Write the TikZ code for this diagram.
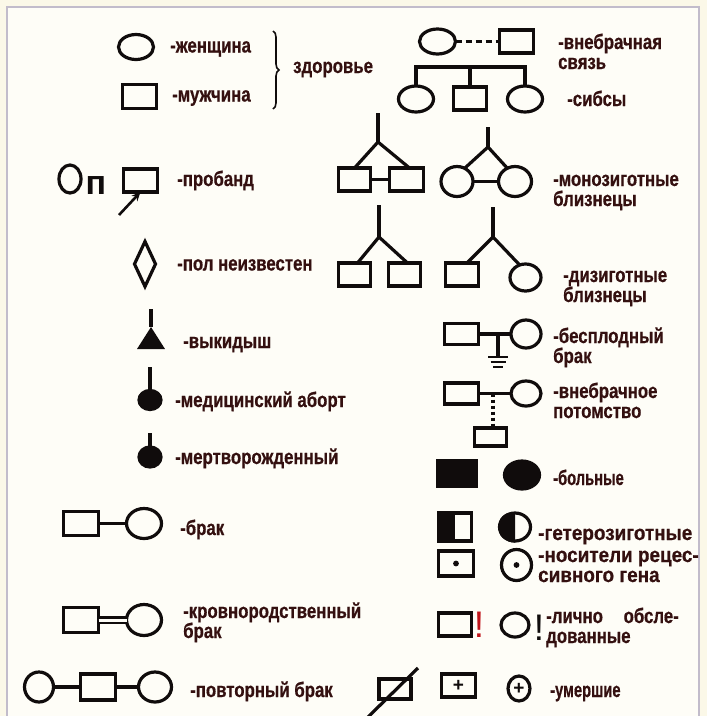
\documentclass[tikz,border=0pt]{standalone}
\usepackage{fontspec}
\newfontfamily\labfont{Liberation Sans}[FakeStretch=0.8, BoldFeatures={FakeBold=0.6}]
\newfontfamily\labwide{Liberation Sans}[FakeStretch=0.9, BoldFeatures={FakeBold=0.6}]
\newfontfamily\labnarrow{Liberation Sans}[FakeStretch=0.7, BoldFeatures={FakeBold=0.6}]
\newfontfamily\plainfont{Liberation Sans}
\usetikzlibrary{shapes.geometric,arrows.meta,decorations.pathreplacing}
\definecolor{ink}{HTML}{100C0C}
\definecolor{txt}{HTML}{341010}
\definecolor{framec}{HTML}{C2BCCB}
\definecolor{paper}{HTML}{FEFDF7}
\definecolor{outerbg}{HTML}{FBF8E8}
\definecolor{bang}{HTML}{C0141A}
\begin{document}
\begin{tikzpicture}[x=1pt,y=-1pt,
  shp/.style={draw=ink, line width=3.2pt, inner sep=0pt, outer sep=0pt},
  fem/.style={shp, ellipse},
  male/.style={shp, rectangle},
  sz/.style 2 args={minimum width=#1pt, minimum height=#2pt},
  lbl/.style={font=\labfont\bfseries\fontsize{21}{20}\selectfont, text=txt, anchor=base west, inner sep=0pt, align=left},
  lblw/.style={lbl, font=\labwide\bfseries\fontsize{21}{20}\selectfont},
  lbln/.style={lbl, font=\labnarrow\bfseries\fontsize{21}{20}\selectfont},
  ln/.style={draw=ink, line width=3.2pt},
  symb/.style={inner sep=0pt, text=ink},
]
\useasboundingbox (0,0) rectangle (707,716);
\fill[outerbg] (0,0) rectangle (707,716);
\fill[paper] (7,7) rectangle (699,716);
\draw[framec, line width=1.3pt] (7,716) -- (7,7) -- (699,7) -- (699,716);

% ---------- left column ----------
\node[fem, sz={35}{25}] (w) at (136,47) {};
\node[lbl] (lw) at (170,52.5) {-женщина};
\node[male, sz={34}{24}] (m) at (139.5,96.5) {};
\node[lbl] (lm) at (172,101.5) {-мужчина};
\coordinate (bt) at (273,31);
\coordinate (bb) at (273,109);
\draw[ink, line width=1.6pt, decorate, decoration={brace, amplitude=6pt}] (bt) -- (bb);
\node[lbl] (lz) at (293,73) {здоровье};

% proband
\node[fem, sz={22}{28}] (pc) at (70,179) {};
\node[symb, font=\plainfont\bfseries\fontsize{34}{34}\selectfont, anchor=base] (pn) at (96,194) {п};
\node[male, sz={34}{23}] (pr) at (140.5,180.5) {};
\coordinate (pa) at (119,215);
\draw[ink, line width=2.6pt, -{Stealth[length=9pt,width=8pt]}] (pa) -- (pr.south);
\node[lbl] (lp) at (177,186) {-пробанд};

% unknown sex
\node[shp, diamond, sz={21}{45}] (dm) at (145,264) {};
\node[lbl] (ld) at (177,270.5) {-пол неизвестен};

% miscarriage
\coordinate (ma) at (151,327);
\coordinate (ms) at (151,309);
\fill[ink] (ma) -- (137,349) -- (165,349) -- cycle;
\draw[ln] (ms) -- (ma);
\node[lbl] (lmi) at (183,348) {-выкидыш};

% abortion
\node[shp, fill=ink, ellipse, sz={22}{19}] (ab) at (150,400) {};
\coordinate (abs) at (150,367);
\draw[ln] (abs) -- (ab.north);
\node[lbl] (lab) at (175,407) {-медицинский аборт};

% stillborn
\node[shp, fill=ink, ellipse, sz={22}{20}] (sb) at (150,457) {};
\coordinate (sbs) at (150,433);
\draw[ln] (sbs) -- (sb.north);
\node[lbl] (lsb) at (175,464) {-мертворожденный};

% marriage
\node[male, sz={35}{24}] (bm) at (81,523.5) {};
\node[fem, sz={35}{30}] (bf) at (144,523.5) {};
\draw[ln] (bm) -- (bf);
\node[lbl] (lbr) at (180,535) {-брак};

% consanguineous
\node[male, sz={35}{25}] (km) at (81,620) {};
\node[fem, sz={35}{31}] (kf) at (144,620) {};
\draw[draw=ink, line width=2.4pt, double=paper, double distance=3pt] (km) -- (kf);
\node[lbl] (lk) at (183,638) {-кровнородственный\\брак};

% repeated marriage
\node[fem, sz={29}{30}] (r1) at (39,687) {};
\node[male, sz={35}{26}] (r2) at (98,687) {};
\node[fem, sz={33}{30}] (r3) at (155,687) {};
\draw[ln] (r1) -- (r2);
\draw[ln] (r2) -- (r3);
\node[lbl] (lr) at (190,697) {-повторный брак};

% ---------- right column ----------
% extramarital relation
\node[fem, sz={36}{25}] (vf) at (437.5,41.5) {};
\node[male, sz={34}{23}] (vm) at (516.5,41.5) {};
\draw[ln, dash pattern=on 6pt off 4pt] (vf) -- (vm);
\node[lbl] (lv) at (558,69) {-внебрачная\\связь};

% sibs
\node[fem, sz={35}{26}] (s1) at (416,99) {};
\node[male, sz={33}{23}] (s2) at (470,98.5) {};
\node[fem, sz={35}{26}] (s3) at (525,99) {};
\coordinate (sl) at (416,67);
\coordinate (sr) at (525,67);
\coordinate (smid) at (470,67);
\draw[ln] (s1.north) -- (sl) -- (sr) -- (s3.north);
\draw[ln] (smid) -- (s2.north);
\node[lbl] (ls) at (567,106) {-сибсы};

% monozygotic twins, boys
\node[male, sz={32}{23}] (mz1) at (354.5,179.5) {};
\node[male, sz={34}{23}] (mz2) at (406.5,179.5) {};
\coordinate (mzt) at (378,113);
\coordinate (mza) at (378,142);
\draw[ln] (mzt) -- (mza);
\draw[ln] (mz1.north) -- (mza) -- ([xshift=3pt]mz2.north);
\draw[ln] (mz1) -- (mz2);

% monozygotic twins, girls
\node[fem, sz={32}{30}] (mc1) at (457,181.5) {};
\node[fem, sz={33}{30}] (mc2) at (515,181.5) {};
\coordinate (mct) at (488,127);
\coordinate (mca) at (488,147);
\draw[ln] (mct) -- (mca);
\draw[ln] (mc1.60) -- (mca) -- (mc2.120);
\draw[ln] (mc1) -- (mc2);
\node[lbl] (lmz) at (553,206) {-монозиготные\\близнецы};

% dizygotic twins
\node[male, sz={32}{23}] (dz1) at (354.5,274.5) {};
\node[male, sz={32}{23}] (dz2) at (404.5,274.5) {};
\coordinate (dzt) at (379,205);
\coordinate (dza) at (379,237);
\draw[ln] (dzt) -- (dza);
\draw[ln] ([xshift=3pt]dz1.north) -- (dza) -- ([xshift=3pt]dz2.north);

\node[male, sz={33}{23}] (dz3) at (462,274.5) {};
\node[fem, sz={31}{27}] (dz4) at (525.5,277.5) {};
\coordinate (dzt2) at (493,207);
\coordinate (dza2) at (493,237);
\draw[ln] (dzt2) -- (dza2);
\draw[ln] ([xshift=5pt]dz3.north) -- (dza2) -- (dz4.115);
\node[lbl] (ldz) at (563,302) {-дизиготные\\близнецы};

% barren marriage
\node[male, sz={34}{21}] (bb1) at (461.5,334) {};
\node[fem, sz={30}{28}] (bb2) at (526,334) {};
\draw[ln] (bb1) -- (bb2);
\coordinate (bbm) at (498,334);
\coordinate (bbg) at (498,357);
\draw[ln] (bbm) -- (bbg);
\draw[ln, line width=2pt] (bbg) ++(-10,0) -- ++(20,0);
\draw[ln, line width=2pt] (bbg) ++(-7.5,5) -- ++(15,0);
\draw[ln, line width=2pt] (bbg) ++(-5,10) -- ++(10,0);
\node[lbl] (lbb) at (553,363) {-бесплодный\\брак};

% extramarital offspring
\node[male, sz={34}{21}] (vo1) at (461.5,393.5) {};
\node[fem, sz={30}{25}] (vo2) at (526,393.5) {};
\draw[ln] (vo1) -- (vo2);
\coordinate (vom) at (493,393.5);
\node[male, sz={32}{18}] (vo3) at (490.5,437) {};
\draw[ln, dash pattern=on 3pt off 3pt] (vom) -- (vom |- vo3.north);
\node[lbl] (lvo) at (553,418) {-внебрачное\\потомство};

% affected
\node[male, fill=ink, sz={38}{25}] (af1) at (457,473.5) {};
\node[fem, fill=ink, sz={35}{28}] (af2) at (522,475) {};
\node[lbln] (laf) at (553,485) {-больные};

% heterozygous
\node[male, sz={33}{28}] (he1) at (455,527) {};
\fill[ink] ([xshift=-1pt,yshift=1pt]he1.north west) rectangle (he1.south);
\node[fem, sz={31}{28}] (he2) at (515,527) {};
\begin{scope}
  \clip ([xshift=-4pt,yshift=4pt]he2.north west) rectangle ([yshift=-4pt]he2.south);
  \fill[ink] (he2.center) ellipse [x radius=17.1, y radius=15.6];
\end{scope}
\node[lblw] (lhe) at (538,540) {-гетерозиготные};

% carriers
\node[male, sz={35}{25}] (ca1) at (456,563.5) {};
\fill[ink] (ca1.center) circle [radius=2.9pt];
\node[fem, sz={30}{31}] (ca2) at (516.5,565) {};
\fill[ink] (ca2.center) circle [radius=2.9pt];
\node[lblw] (lca) at (538,582) {-носители рецес-\\сивного гена};

% personally examined
\node[male, sz={33}{23}] (ex1) at (455,624.5) {};
\node[symb, text=bang, font=\plainfont\fontsize{37}{37}\selectfont, anchor=base] (ex1b) at (479,637) {!};
\node[fem, sz={28}{24}] (ex2) at (515,625) {};
\node[symb, font=\plainfont\fontsize{37}{37}\selectfont, anchor=base] (ex2b) at (539,640) {!};
\node[lbl] (lex) at (546,643) {-лично\hspace{16pt} обсле-\\дованные};

% deceased
\node[male, sz={32}{20}] (d1) at (395,689) {};
\coordinate (dl1) at (368,717);
\coordinate (dl2) at (418,668);
\draw[ln] (dl1) -- (dl2);
\node[male, sz={34}{23}] (d2) at (458.5,685.5) {};
\node[symb, font=\plainfont\bfseries\fontsize{19}{19}\selectfont] (d2p) at (d2) {+};
\node[fem, sz={22}{25}] (d3) at (519,688.5) {};
\node[symb, font=\plainfont\bfseries\fontsize{19}{19}\selectfont] (d3p) at (d3) {+};
\node[lbln] (ld3) at (550,697) {-умершие};
\end{tikzpicture}
\end{document}
